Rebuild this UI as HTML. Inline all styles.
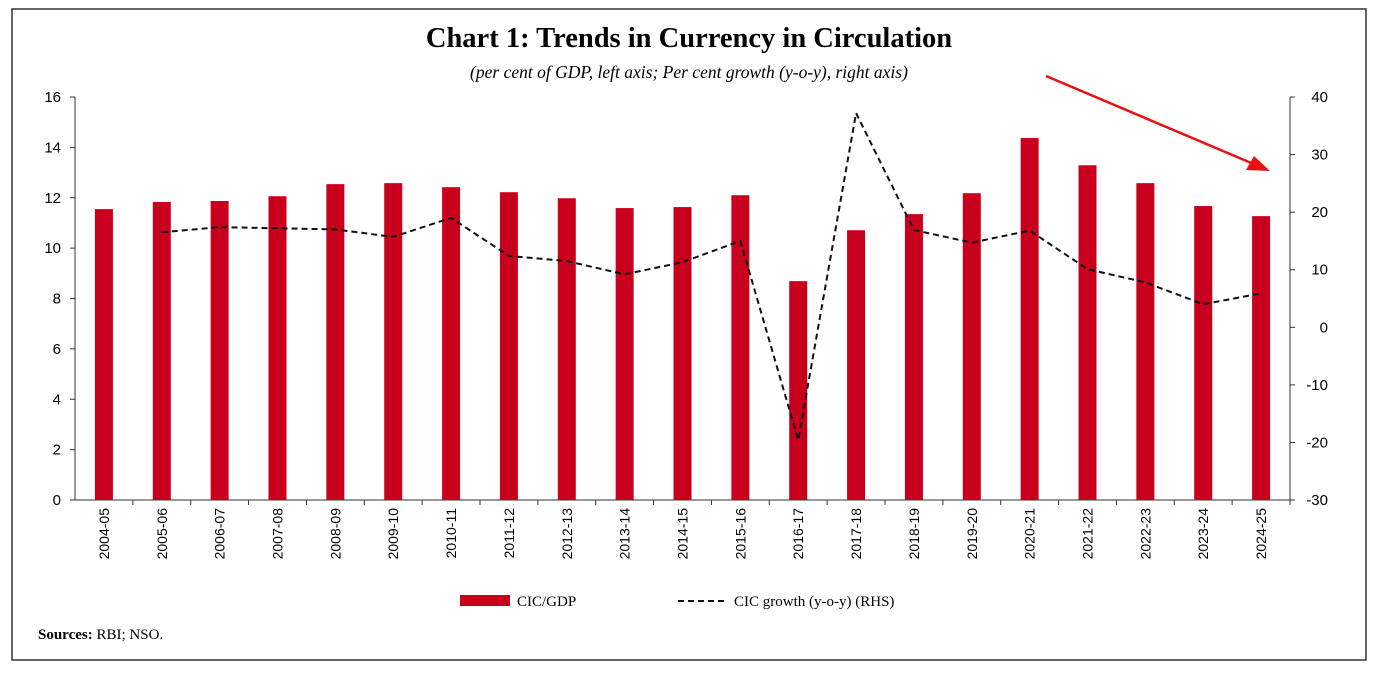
<!DOCTYPE html>
<html><head><meta charset="utf-8"><style>
body{margin:0;background:#fff;}
svg{display:block;font-family:"Liberation Serif",serif;}
</style></head><body>
<svg width="1377" height="677" xmlns="http://www.w3.org/2000/svg">
<rect x="12" y="9" width="1354" height="651" fill="none" stroke="#333" stroke-width="1.5"/>
<text x="689" y="47" text-anchor="middle" font-size="28.5" font-weight="bold">Chart 1: Trends in Currency in Circulation</text>
<text x="689" y="78" text-anchor="middle" font-size="17.5" font-style="italic">(per cent of GDP, left axis; Per cent growth (y-o-y), right axis)</text>
<g id="plot"></g>
<line x1="1046" y1="76" x2="1256" y2="165" stroke="#e81010" stroke-width="2.5"/>
<polygon points="1270,171 1246,170 1254,156" fill="#e81010"/>
<rect x="460" y="595" width="50" height="11" fill="#c8001e"/>
<text x="517" y="606" font-size="15">CIC/GDP</text>
<line x1="678" y1="601" x2="727" y2="601" stroke="#111" stroke-width="2" stroke-dasharray="6,4"/>
<text x="734" y="606" font-size="15">CIC growth (y-o-y) (RHS)</text>
<text x="38" y="639" font-size="15"><tspan font-weight="bold">Sources:</tspan> RBI; NSO.</text>
</svg>
<script>
const categories=["2004-05","2005-06","2006-07","2007-08","2008-09","2009-10","2010-11","2011-12","2012-13","2013-14","2014-15","2015-16","2016-17","2017-18","2018-19","2019-20","2020-21","2021-22","2022-23","2023-24","2024-25"];
const cicGdp=[11.55,11.83,11.87,12.06,12.54,12.58,12.42,12.22,11.98,11.59,11.63,12.1,8.69,10.71,11.35,12.18,14.37,13.29,12.58,11.67,11.27];
const cicGrowth=[null,16.5,17.4,17.2,17.0,15.7,19.0,12.4,11.5,9.2,11.3,15.0,-19.6,37.2,16.9,14.7,16.8,10.1,7.8,4.0,5.9];
const leftTicks=[0,2,4,6,8,10,12,14,16];
const rightTicks=[-30,-20,-10,0,10,20,30,40];
const NS="http://www.w3.org/2000/svg";
const g=document.getElementById('plot');
const L=75,R=1290,T=97,B=500;
const band=(R-L)/categories.length;
const xc=i=>L+band*(i+0.5);
const yl=v=>B-(v-0)/(16-0)*(B-T);
const yr=v=>B-(v+30)/70*(B-T);
function mk(tag,attrs){const e=document.createElementNS(NS,tag);for(const k in attrs)e.setAttribute(k,attrs[k]);g.appendChild(e);return e;}
let e;
e=mk('line',{x1:L,y1:T,x2:L,y2:B,stroke:'#333'});


e=mk('line',{x1:R,y1:T,x2:R,y2:B,stroke:'#333'});


e=mk('line',{x1:L,y1:B,x2:R,y2:B,stroke:'#333'});


leftTicks.forEach(v=>{
 mk('line',{x1:L-5,y1:yl(v),x2:L,y2:yl(v),stroke:'#333'});
 e=mk('text',{x:L-14,y:yl(v)+5,'text-anchor':'end','font-size':15,'font-family':'Liberation Sans, sans-serif'});e.textContent=v;
 
 
});
rightTicks.forEach(v=>{
 mk('line',{x1:R,y1:yr(v),x2:R+5,y2:yr(v),stroke:'#333'});
 e=mk('text',{x:R+38,y:yr(v)+5,'text-anchor':'end','font-size':15,'font-family':'Liberation Sans, sans-serif'});e.textContent=v;
 
 
});
categories.forEach((c,i)=>{
 mk('line',{x1:L+band*(i+1),y1:B,x2:L+band*(i+1),y2:B+5,stroke:'#333'});
 const x=xc(i)+5,y=B+8;
 e=mk('text',{x:x,y:y,'text-anchor':'end','font-size':14,'font-family':'Liberation Sans, sans-serif',transform:`rotate(-90 ${x} ${y})`});e.textContent=c;
 
 
 e=mk('rect',{x:xc(i)-9,y:yl(cicGdp[i]),width:18,height:B-yl(cicGdp[i]),fill:'#c8001e'});
 
 
});
let d='';cicGrowth.forEach((v,i)=>{if(v===null)return;d+=(d?'L':'M')+xc(i)+','+yr(v);});
e=mk('path',{d:d,fill:'none',stroke:'#111','stroke-width':2,'stroke-dasharray':'6,4'});


</script>
</body></html>
